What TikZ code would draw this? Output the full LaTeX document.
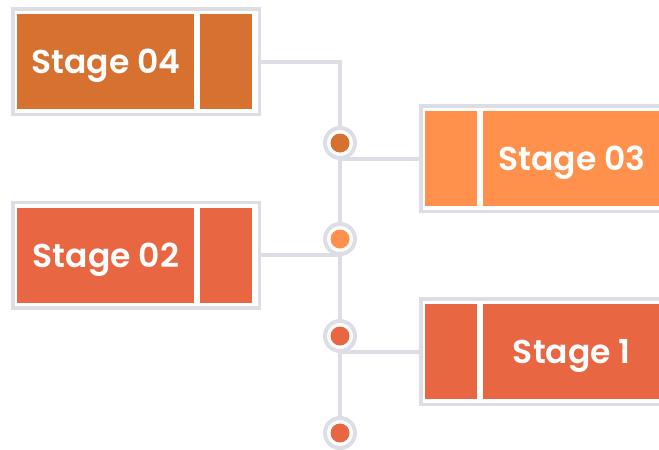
\documentclass[tikz,border=0pt]{standalone}
\usepackage{fontspec}
\setmainfont{Poppins}[BoldFont={* SemiBold}]
\usetikzlibrary{positioning, backgrounds}

\definecolor{stagedark}{HTML}{D67130}
\definecolor{stagelight}{HTML}{FF914D}
\definecolor{stagered}{HTML}{E96642}
\definecolor{linegray}{HTML}{DDDDE5}

\begin{document}
\begin{tikzpicture}[
        x=1pt, y=-1pt,
        font=\bfseries\fontsize{33}{38}\selectfont,
        frame/.style={
            draw=linegray,
            line width=3.5pt,
            minimum width=246.5pt,
            minimum height=105.5pt,
            inner sep=0pt
        },
        mainbox/.style={
            fill=#1,
            text=white,
            minimum width=177pt,
            minimum height=95pt,
            text height=24pt,
            text depth=0pt,
            inner sep=0pt
        },
        sidebox/.style={
            fill=#1,
            minimum width=52pt,
            minimum height=95pt,
            inner sep=0pt
        },
        dot/.style={
            circle,
            draw=linegray,
            line width=4pt,
            fill=white,
            minimum size=30pt,
            inner sep=0pt,
            path picture={\fill[#1] (path picture bounding box.center) circle (9.5pt);}
        },
        conn/.style={
            draw=linegray,
            line width=4pt
        }
    ]

    \useasboundingbox (0,0) rectangle (659,450);

    \node[frame] (f4) at (136,61.5) {};
    \node[mainbox=stagedark, right=6.25pt of f4.west] (m4) {Stage 04};
    \node[sidebox=stagedark, right=5pt of m4] (s4) {};

    \node[frame] (f3) at (544,158.5) {};
    \node[sidebox=stagelight, right=6.25pt of f3.west] (s3) {};
    \node[mainbox=stagelight, right=5.5pt of s3] (m3) {Stage 03};

    \node[frame] (f2) at (136,255) {};
    \node[mainbox=stagered, right=6.25pt of f2.west] (m2) {Stage 02};
    \node[sidebox=stagered, right=5pt of m2] (s2) {};

    \node[frame] (f1) at (544,351.5) {};
    \node[sidebox=stagered, right=6.25pt of f1.west] (s1) {};
    \node[mainbox=stagered, right=5.5pt of s1] (m1) {Stage 1};

    \node[dot=stagedark] (d1) at (340,143) {};
    \node[dot=stagelight] (d2) at (340,239) {};
    \node[dot=stagered] (d3) at (340,336) {};
    \node[dot=stagered] (d4) at (340,433) {};

    \begin{scope}[on background layer]
        \draw[conn] (f4.east) -| (d4.center);
        \draw[conn] (f3.west) -- (f3.west -| d1);
        \draw[conn] (f2.east) -- (f2.east -| d2);
        \draw[conn] (f1.west) -- (f1.west -| d3);
    \end{scope}

\end{tikzpicture}
\end{document}
